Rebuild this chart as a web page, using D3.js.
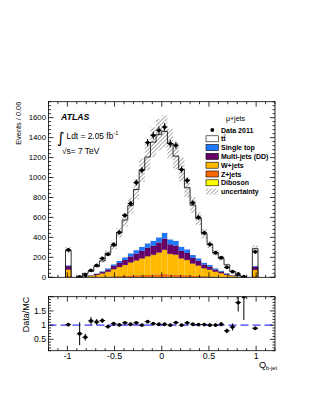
<!DOCTYPE html>
<html>
<head>
<meta charset="utf-8">
<script src="https://cdn.jsdelivr.net/npm/d3@7"></script>
<style>
  body { margin: 0; background: #fff; }
  svg { display: block; font-family: "Liberation Sans", Arial, Helvetica, sans-serif; }
</style>
</head>
<body>
<svg id="chart" width="316" height="409"></svg>
<script>
// bin centres (width 0.06) of the filled bins
const binCenters = [-0.99, -0.87, -0.81, -0.75, -0.69, -0.63, -0.57, -0.51, -0.45, -0.39, -0.33,
  -0.27, -0.21, -0.15, -0.09, -0.03, 0.03, 0.09, 0.15, 0.21, 0.27, 0.33, 0.39, 0.45, 0.51,
  0.57, 0.63, 0.69, 0.75, 0.81, 0.87, 0.99];
const binWidth = 0.06;

const data2011 = [275, 3, 23, 70, 120, 190, 230, 330, 450, 620, 740, 950, 1073, 1350, 1423, 1473,
  1506, 1340, 1323, 1080, 970, 746, 600, 446, 330, 246, 196, 100, 56, 33, 6, 255];

const diboson = [2, 0, 0, 0, 0, 0, 1, 1, 1, 2, 2, 3, 3, 3, 4, 4, 4, 4, 4, 3, 3, 2, 2, 1, 1, 1, 0, 0, 0, 0, 0, 2];
const zjets = [10, 0, 0, 1, 2, 4, 5, 8, 10, 12, 15, 16, 18, 21, 22, 24, 27, 22, 22, 18, 17, 13, 11, 9, 7, 5, 4, 2, 1, 0, 0, 10];
const wjets = [65, 1, 5, 12, 22, 33, 50, 72, 92, 110, 132, 150, 168, 187, 200, 220, 245, 209, 201, 169, 154, 123, 105, 81, 68, 50, 37, 23, 12, 5, 2, 62];
const multijets = [35, 1, 2, 5, 9, 15, 22, 32, 41, 50, 60, 68, 76, 85, 92, 100, 112, 95, 91, 76, 70, 56, 47, 36, 31, 22, 16, 10, 5, 2, 1, 30];
const singletop = [8, 0, 1, 2, 5, 8, 12, 17, 21, 26, 31, 35, 40, 44, 48, 52, 58, 50, 48, 40, 36, 29, 25, 19, 16, 12, 9, 5, 2, 1, 0, 8];
const ttbar = [150, 2.3, 32, 41, 70, 104, 152, 184, 281, 374, 478, 608, 768, 865, 989, 1030, 1016, 960, 848, 774, 618, 501, 398, 291, 207, 156, 124, 85, 40, 10.4, 0, 175];

// relative MC uncertainty per bin
const mcUnc = [0.12, 0.12, 0.12, 0.11, 0.11, 0.11, 0.11, 0.11, 0.11, 0.11, 0.11, 0.11, 0.11, 0.11, 0.11, 0.11,
  0.11, 0.11, 0.11, 0.11, 0.11, 0.11, 0.11, 0.11, 0.11, 0.11, 0.11, 0.11, 0.12, 0.12, 0.12, 0.12];

const mainTicks = [0, 200, 400, 600, 800, 1000, 1200, 1400, 1600];
const ratioTicks = [0.5, 1, 1.5];
const xTicks = [-1, -0.5, 0, 0.5, 1];

const layers = [
  {name: "Diboson", vals: diboson, color: "#ffff00"},
  {name: "Z+jets", vals: zjets, color: "#ff6a00"},
  {name: "W+jets", vals: wjets, color: "#ffba00"},
  {name: "Multi-jets (DD)", vals: multijets, color: "#660066"},
  {name: "Single top", vals: singletop, color: "#1f78ff"},
  {name: "tt", vals: ttbar, color: "#ffffff"}
];

const svg = d3.select("#chart");
const L = 48.5, R = 275;
const x = d3.scaleLinear().domain([-1.2, 1.2]).range([L, R]);
const y = d3.scaleLinear().domain([0, 1760]).range([277.3, 101.7]);
const yr = d3.scaleLinear().domain([0.1, 2.0]).range([350.7, 296.7]);

const defs = svg.append("defs");
defs.append("pattern").attr("id", "hatch")
  .attr("patternUnits", "userSpaceOnUse").attr("width", 2.8).attr("height", 2.8)
  .attr("patternTransform", "rotate(45)")
  .append("line").attr("x1", 0).attr("y1", 0).attr("x2", 0).attr("y2", 2.8)
  .attr("stroke", "#222").attr("stroke-width", 0.8);
defs.append("clipPath").attr("id", "clipMain").append("rect")
  .attr("x", L).attr("y", y.range()[1]).attr("width", R - L).attr("height", y.range()[0] - y.range()[1]);
defs.append("clipPath").attr("id", "clipRatio").append("rect")
  .attr("x", L).attr("y", yr.range()[1]).attr("width", R - L).attr("height", yr.range()[0] - yr.range()[1]);

const lo = c => c - binWidth / 2;
const hi = c => c + binWidth / 2;

function stepPath(vals) {
  let d = "";
  binCenters.forEach((c, i) => {
    const prevAdj = i > 0 && Math.abs(c - binCenters[i - 1] - binWidth) < 1e-6;
    if (!prevAdj) d += `M${x(lo(c))},${y(0)}`;
    d += `L${x(lo(c))},${y(vals[i])}L${x(hi(c))},${y(vals[i])}`;
    const nextAdj = i < binCenters.length - 1 && Math.abs(binCenters[i + 1] - c - binWidth) < 1e-6;
    if (!nextAdj) d += `L${x(hi(c))},${y(0)}`;
  });
  return d;
}

// stack
const total = binCenters.map(() => 0);
const main = svg.append("g").attr("clip-path", "url(#clipMain)");
layers.forEach(layer => {
  const g = main.append("g");
  binCenters.forEach((c, i) => {
    const b = total[i], t = b + layer.vals[i];
    if (layer.vals[i] > 0) {
      g.append("rect")
        .attr("x", x(lo(c))).attr("width", x(hi(c)) - x(lo(c)))
        .attr("y", y(t)).attr("height", y(b) - y(t))
        .attr("fill", layer.color);
    }
    total[i] = t;
  });
  if (layer.name !== "tt") {
    main.append("path").attr("d", stepPath(total.slice()))
      .attr("fill", "none").attr("stroke", "#000").attr("stroke-width", 0.35).attr("stroke-opacity", 0.6);
  }
});

// uncertainty band
binCenters.forEach((c, i) => {
  const u = total[i] * mcUnc[i];
  main.append("rect")
    .attr("x", x(lo(c))).attr("width", x(hi(c)) - x(lo(c)))
    .attr("y", y(total[i] + u)).attr("height", y(total[i] - u) - y(total[i] + u))
    .attr("fill", "url(#hatch)");
});
main.append("path").attr("d", stepPath(total))
  .attr("fill", "none").attr("stroke", "#000").attr("stroke-width", 0.8);

// data points
binCenters.forEach((c, i) => {
  const v = data2011[i], e = Math.sqrt(v);
  const g = main.append("g").attr("stroke", "#000").attr("stroke-width", 1);
  g.append("line").attr("x1", x(lo(c))).attr("x2", x(hi(c))).attr("y1", y(v)).attr("y2", y(v));
  g.append("line").attr("x1", x(c)).attr("x2", x(c)).attr("y1", y(v - e)).attr("y2", y(v + e));
  g.append("circle").attr("cx", x(c)).attr("cy", y(v)).attr("r", 1.9).attr("fill", "#000").attr("stroke", "none");
});

// ratio panel
const ratio = svg.append("g").attr("clip-path", "url(#clipRatio)");
ratio.append("line").attr("x1", L).attr("x2", R).attr("y1", yr(1)).attr("y2", yr(1))
  .attr("stroke", "#3b3bff").attr("stroke-width", 1.1).attr("stroke-dasharray", "8,4");
binCenters.forEach((c, i) => {
  const r = data2011[i] / total[i], e = Math.sqrt(data2011[i]) / total[i];
  const g = ratio.append("g").attr("stroke", "#000").attr("stroke-width", 1);
  g.append("line").attr("x1", x(lo(c))).attr("x2", x(hi(c))).attr("y1", yr(r)).attr("y2", yr(r));
  g.append("line").attr("x1", x(c)).attr("x2", x(c)).attr("y1", yr(r - e)).attr("y2", yr(r + e));
  g.append("circle").attr("cx", x(c)).attr("cy", yr(r)).attr("r", 1.9).attr("fill", "#000").attr("stroke", "none");
});

// frames and ticks (ROOT style, inward on all sides)
function frame(ys, yMajor, yMinorStep, major, minor) {
  const [yb, yt] = ys.range();
  const g = svg.append("g").attr("stroke", "#000").attr("stroke-width", 0.8);
  g.append("rect").attr("x", L).attr("y", yt).attr("width", R - L).attr("height", yb - yt).attr("fill", "none");
  d3.range(-1.2, 1.2001, 0.1).forEach(t => {
    const isMaj = Math.abs(t * 2 - Math.round(t * 2)) < 1e-6;
    const len = isMaj ? major : minor;
    g.append("line").attr("x1", x(t)).attr("x2", x(t)).attr("y1", yb).attr("y2", yb - len);
    g.append("line").attr("x1", x(t)).attr("x2", x(t)).attr("y1", yt).attr("y2", yt + len);
  });
  const [d0, d1] = ys.domain();
  for (let v = Math.ceil(d0 / yMinorStep) * yMinorStep; v <= d1 + 1e-9; v += yMinorStep) {
    const isMaj = yMajor.some(m => Math.abs(m - v) < 1e-6) || Math.abs((v / (yMinorStep * 5)) - Math.round(v / (yMinorStep * 5))) < 1e-6;
    const len = isMaj ? major : minor;
    g.append("line").attr("x1", L).attr("x2", L + len).attr("y1", ys(v)).attr("y2", ys(v));
    g.append("line").attr("x1", R).attr("x2", R - len).attr("y1", ys(v)).attr("y2", ys(v));
  }
}
frame(y, mainTicks, 40, 5, 2.5);
frame(yr, ratioTicks, 0.1, 5, 2.5);

// tick labels
svg.append("g").selectAll("text").data(mainTicks).join("text")
  .attr("x", L - 2.5).attr("y", d => y(d)).attr("dy", "0.35em")
  .attr("text-anchor", "end").attr("font-size", 7.8).text(d => d);
svg.append("g").selectAll("text").data(ratioTicks).join("text")
  .attr("x", L - 2.5).attr("y", d => yr(d)).attr("dy", "0.35em")
  .attr("text-anchor", "end").attr("font-size", 8.6).text(d => d);
svg.append("g").selectAll("text").data(xTicks).join("text")
  .attr("x", d => x(d)).attr("y", 359)
  .attr("text-anchor", "middle").attr("font-size", 8.8).text(d => d);

// axis titles
svg.append("text").attr("transform", "translate(20.5,101.7) rotate(-90)")
  .attr("text-anchor", "end").attr("font-size", 7.4).text("Events / 0.06");
svg.append("text").attr("transform", "translate(28.5,296.7) rotate(-90)")
  .attr("text-anchor", "end").attr("font-size", 9).text("Data/MC");
const xt = svg.append("text").attr("x", 277).attr("y", 367.5).attr("text-anchor", "end").attr("font-size", 9.2);
xt.append("tspan").text("Q");
xt.append("tspan").attr("font-size", 5.6).attr("dy", 2).text("b-jet");

// labels
svg.append("text").attr("x", 61).attr("y", 120.3).attr("font-size", 8.7)
  .attr("font-weight", "bold").attr("font-style", "italic").text("ATLAS");
svg.append("text").attr("x", 57).attr("y", 142.5).attr("font-size", 15)
  .attr("font-family", "DejaVu Sans").text("∫");
const lum = svg.append("text").attr("x", 66.5).attr("y", 139.3).attr("font-size", 8.4);
lum.append("tspan").text("Ldt = 2.05 fb");
lum.append("tspan").attr("font-size", 5.5).attr("dy", -4).text("-1");
svg.append("text").attr("x", 62).attr("y", 154.3).attr("font-size", 8.4).text("√s= 7 TeV");

// legend
svg.append("text").attr("x", 226).attr("y", 120.5).attr("font-size", 7).text("μ+jets");
const legendEntries = [
  {label: "Data 2011", kind: "data"},
  {label: "tt", kind: "box", color: "#ffffff"},
  {label: "Single top", kind: "box", color: "#1f78ff"},
  {label: "Multi-jets (DD)", kind: "box", color: "#660066"},
  {label: "W+jets", kind: "box", color: "#ffba00"},
  {label: "Z+jets", kind: "box", color: "#ff6a00"},
  {label: "Diboson", kind: "box", color: "#ffff00"},
  {label: "uncertainty", kind: "hatch"}
];
const leg = svg.append("g");
legendEntries.forEach((e, i) => {
  const cy = 130 + i * 8.8;
  if (e.kind === "data") {
    leg.append("circle").attr("cx", 212.3).attr("cy", cy).attr("r", 1.9).attr("fill", "#000");
  } else {
    leg.append("rect").attr("x", 206).attr("y", cy - 3).attr("width", 12.3).attr("height", 6)
      .attr("fill", e.kind === "hatch" ? "url(#hatch)" : e.color)
      .attr("stroke", e.kind === "hatch" ? "none" : "#000").attr("stroke-width", 0.6);
  }
  leg.append("text").attr("x", 221).attr("y", cy).attr("dy", "0.36em")
    .attr("font-size", 7).attr("font-weight", "bold").text(e.label);
  if (e.label === "tt") {
    leg.append("line").attr("x1", 223.4).attr("x2", 226).attr("y1", cy - 3.9).attr("y2", cy - 3.9)
      .attr("stroke", "#000").attr("stroke-width", 0.5);
  }
});
</script>
</body>
</html>
